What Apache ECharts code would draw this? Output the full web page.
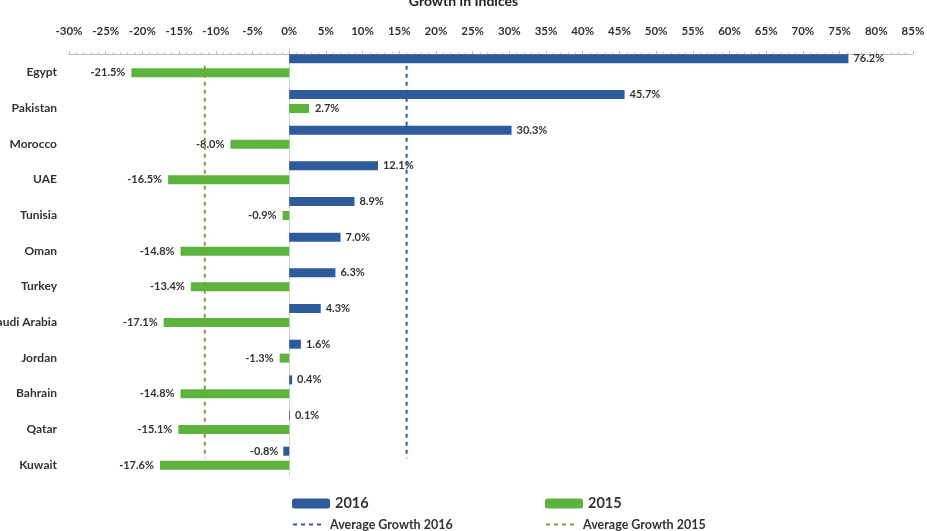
<!DOCTYPE html>
<html><head><meta charset="utf-8">
<script src="https://cdn.jsdelivr.net/npm/echarts@6/dist/echarts.min.js"></script>
<style>html,body{margin:0;padding:0;background:#fff}#c{width:927px;height:531px}</style>
</head><body><div id="c"></div>
<script>
const categories = ['Egypt','Pakistan','Morocco','UAE','Tunisia','Oman','Turkey','Saudi Arabia','Jordan','Bahrain','Qatar','Kuwait'];
const growth2016 = [76.2,45.7,30.3,12.1,8.9,7.0,6.3,4.3,1.6,0.4,0.1,-0.8];
const growth2015 = [-21.5,2.7,-8.0,-16.5,-0.9,-14.8,-13.4,-17.1,-1.3,-14.8,-15.1,-17.6];
const avg2016 = 16.0;
const avg2015 = -11.5;
const xTicks = {min:-30, max:85, interval:5};

const BLUE = '#2d5b9b', GREEN = '#5cb43e', OLIVE = '#7f9c3c';
const FONT = 'Lato';
const lbl = v => ({value: v, label: {position: v < 0 ? 'left' : 'right'}});
const chart = echarts.init(document.getElementById('c'));
chart.setOption({
  animation: false,
  textStyle: {fontFamily: FONT},
  title: {text: 'Growth in Indices', left: 'center', top: -11,
    textStyle: {fontFamily: FONT, fontSize: 14, fontWeight: 'bold', color: '#222'}},
  grid: {left: 69, right: 14, top: 48, height: 428, containLabel: false, outerBoundsMode: 'none'},
  xAxis: {type: 'value', position: 'top', offset: -6, min: xTicks.min, max: xTicks.max, interval: xTicks.interval,
    axisLabel: {formatter: v => v + '%', fontSize: 11.5, fontWeight: 'bold', color: '#333', margin: 17},
    axisLine: {show: true, lineStyle: {color: '#bbb'}},
    axisTick: {show: true, length: 3, lineStyle: {color: '#bbb'}},
    minorTick: {show: true, splitNumber: 5, length: 2, lineStyle: {color: '#ccc'}},
    splitLine: {show: false}},
  yAxis: {type: 'category', inverse: true, data: categories,
    axisLine: {show: true, onZero: true, lineStyle: {color: '#c8d2c8'}},
    axisTick: {show: false},
    axisLabel: {fontSize: 12, fontWeight: 'bold', color: '#333', margin: 12, verticalAlign: 'top', lineHeight: 13}},
  legend: [
    {data: ['2016'], left: 287, top: 491, itemWidth: 38, itemHeight: 10, itemGap: 3,
     textStyle: {fontSize: 14.5, fontWeight: 'bold', color: '#333'}},
    {data: ['2015'], left: 540, top: 491, itemWidth: 38, itemHeight: 10, itemGap: 3,
     textStyle: {fontSize: 14.5, fontWeight: 'bold', color: '#333'}},
    {data: ['Average Growth 2016'], left: 287, top: 513, itemWidth: 32, itemHeight: 8, itemGap: 3,
     itemStyle: {opacity: 0},
     textStyle: {fontSize: 12.5, fontWeight: 'bold', color: '#333'}},
    {data: ['Average Growth 2015'], left: 540, top: 513, itemWidth: 32, itemHeight: 8, itemGap: 3,
     itemStyle: {opacity: 0},
     textStyle: {fontSize: 12.5, fontWeight: 'bold', color: '#333'}}
  ],
  series: [
    {name: '2016', type: 'bar', data: growth2016.map(lbl), barWidth: 9, barGap: '55%',
     itemStyle: {color: BLUE},
     label: {show: true, formatter: p => p.value.toFixed(1) + '%', fontSize: 11, fontWeight: 'bold', color: '#333', distance: 5}},
    {name: '2015', type: 'bar', data: growth2015.map(lbl), barWidth: 9,
     itemStyle: {color: GREEN},
     label: {show: true, formatter: p => p.value.toFixed(1) + '%', fontSize: 11, fontWeight: 'bold', color: '#333', distance: 6}},
    {name: 'Average Growth 2016', type: 'line', symbol: 'none', z: 5,
     data: [[avg2016, categories[0]], [avg2016, categories[categories.length-1]]],
     lineStyle: {color: BLUE, width: 2, type: [4,4]}, itemStyle: {color: BLUE}},
    {name: 'Average Growth 2015', type: 'line', symbol: 'none', z: 5,
     data: [[avg2015, categories[0]], [avg2015, categories[categories.length-1]]],
     lineStyle: {color: OLIVE, width: 2, type: [4,4]}, itemStyle: {color: OLIVE}}
  ]
});
</script></body></html>
